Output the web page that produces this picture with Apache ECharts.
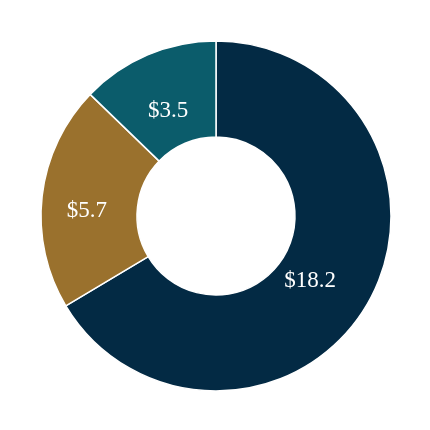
<!DOCTYPE html>
<html>
<head>
<meta charset="utf-8">
<script src="https://cdn.jsdelivr.net/npm/echarts@6/dist/echarts.min.js"></script>
<style>
  html, body { margin: 0; padding: 0; background: #fff; }
  #chart { width: 430px; height: 430px; }
</style>
</head>
<body>
<div id="chart"></div>
<script>
const names = ['A', 'B', 'C']
const values = [18.2, 5.7, 3.5]
const colors = ['#032a44', '#9a712d', '#0b5c6b']
// small nudges so labels sit where the original put them
const labelOffsets = [[-19, 1], [0, 10], [3, 15]]

const chart = echarts.init(document.getElementById('chart'))
chart.setOption({
  animation: false,
  series: [
    {
      type: 'pie',
      center: [216, 216],
      radius: [79, 175],
      startAngle: 90,
      clockwise: true,
      itemStyle: {
        borderColor: '#fff',
        borderWidth: 1.5
      },
      label: {
        position: 'inside',
        color: '#fff',
        fontFamily: 'Liberation Serif',
        fontSize: 23,
        formatter: p => '$' + p.value.toFixed(1)
      },
      labelLine: { show: false },
      data: names.map((n, i) => ({
        name: n,
        value: values[i],
        itemStyle: { color: colors[i] },
        label: { offset: labelOffsets[i] }
      }))
    }
  ]
})
</script>
</body>
</html>
